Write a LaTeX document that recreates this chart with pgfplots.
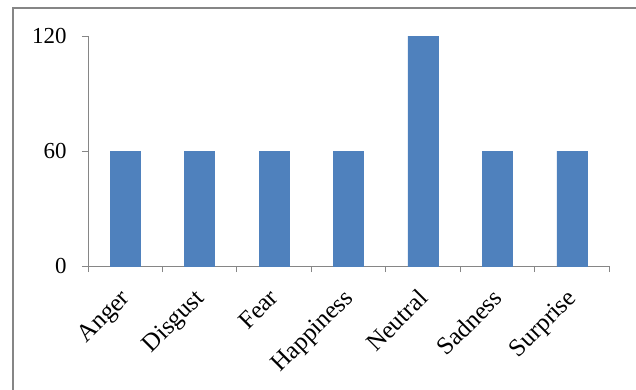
\documentclass[border=0pt]{standalone}
\usepackage{fontspec}
\setmainfont{Liberation Serif}
\usepackage{pgfplots}
\pgfplotsset{compat=1.18}
\definecolor{barblue}{HTML}{4F81BD}
\definecolor{axgray}{HTML}{868686}
\begin{document}
\begin{tikzpicture}
\useasboundingbox (0,0) rectangle (636bp,-390bp);
\draw[axgray, line width=1.3bp] (13bp,-391bp) -- (13bp,-8bp) -- (637bp,-8bp);
\begin{axis}[
  at={(88bp,-266bp)}, anchor=south west,
  scale only axis, width=521bp, height=230bp,
  xmin=-0.5, xmax=6.5, ymin=0, ymax=120,
  axis x line=bottom, axis y line=left,
  axis line style={axgray, line width=1bp, -},
  xtick={0,...,6},
  xticklabels={Anger,Disgust,Fear,Happiness,Neutral,Sadness,Surprise},
  minor xtick={-0.5,0.5,...,6.5},
  major x tick style={draw=none},
  ytick={0,60,120},
  tick align=outside,
  major tick length=6bp, minor tick length=6bp,
  every tick/.style={axgray, line width=1bp},
  ticklabel style={font=\fontsize{23}{27}\selectfont},
  /pgf/number format/assume math mode=true,
  x tick label style={font=\fontsize{25}{29}\selectfont, xshift=-6bp, yshift=-14bp, rotate=45, anchor=north east, inner sep=1bp},
  y tick label style={xshift=-12bp},
  clip=false,
]
\addplot[ybar, bar width=30bp, fill=barblue, draw=barblue] coordinates {
  (0,60) (1,60) (2,60) (3,60) (4,120) (5,60) (6,60)
};
\end{axis}
\end{tikzpicture}
\end{document}
